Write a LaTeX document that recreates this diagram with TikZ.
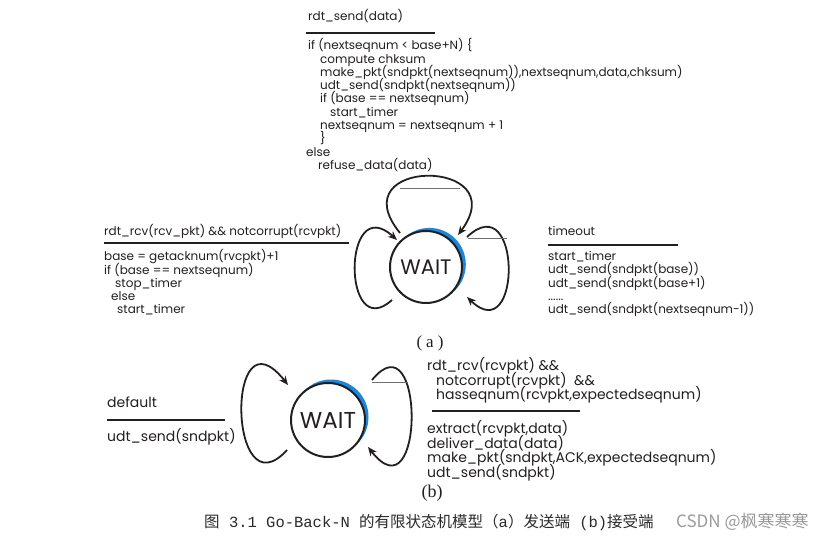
\documentclass[tikz,border=0pt]{standalone}
\usepackage{fontspec}
\setmainfont{Poppins}
\newfontfamily\cjk{Noto Sans CJK SC}
\newfontfamily\serifx{Liberation Serif}
\newfontfamily\monox{Liberation Mono}
\usetikzlibrary{arrows.meta, backgrounds, calc}

\definecolor{ink}{HTML}{231F20}
\definecolor{crescent}{HTML}{1C86D9}
\definecolor{chord}{HTML}{707070}
\definecolor{wmark}{HTML}{9A9A9A}
\definecolor{captxt}{HTML}{2A2A2A}

\tikzset{
  >={Stealth[length=9pt, width=7.5pt]},
  %
  code/.style={font=\fontsize{12}{13.3}\selectfont,
               text=ink, align=left, inner sep=0pt, anchor=north west,
               execute at begin node={\lineskiplimit=-20pt\rule{0pt}{11pt}}},
  codeb/.style={code, font=\fontsize{14}{14.7}\selectfont,
                execute at begin node={\lineskiplimit=-20pt\rule{0pt}{12.5pt}}},
  %
  state/.style={circle, draw=ink, line width=2pt, fill=white,
                inner sep=0pt, text=ink},
  selfloop/.style={draw=ink, line width=1.8pt, ->},
  sep/.style={draw=ink, line width=2.2pt},
  chordline/.style={draw=chord, line width=0.9pt},
  %
  sublbl/.style={text=ink, inner sep=0pt},
}

\begin{document}
\begin{tikzpicture}[x=1pt, y=-1pt]
  \useasboundingbox (0,0) rectangle (830,540);

  % =====================================================================
  % (a) sender
  % =====================================================================
  \node[state, minimum size=72pt, font=\fontsize{21}{21}\selectfont]
    (wa) at (426,267) {WAIT};

  \node[code] (sendev) at (308,9.3) {rdt\_send(data)};
  \draw[sep] (306,33) -- (435,33);
  \node[code] (sendact) at (306,38.3)
    {\hspace*{2pt}if (nextseqnum < base+N) \{\\
     \hspace*{14pt}compute chksum\\
     \hspace*{14pt}make\_pkt(sndpkt(nextseqnum)),nextseqnum,data,chksum)\\
     \hspace*{14pt}udt\_send(sndpkt(nextseqnum))\\
     \hspace*{14pt}if (base == nextseqnum)\\
     \hspace*{24pt}start\_timer\\
     \hspace*{14pt}nextseqnum = nextseqnum + 1\\
     \hspace*{14pt}\}\\
     else\\
     \hspace*{12pt}refuse\_data(data)};

  \node[code] (rcvev) at (104,224.3)
    {rdt\_rcv(rcv\_pkt) \&\& notcorrupt(rcvpkt)};
  \draw[sep] (104,243) -- (349,243);
  \node[code] (rcvact) at (104,249.3)
    {base = getacknum(rvcpkt)+1\\
     if (base == nextseqnum)\\
     \hspace*{11pt}stop\_timer\\
     \hspace*{7pt}else\\
     \hspace*{13pt}start\_timer};

  \node[code] (toev) at (548,224.3) {timeout};
  \draw[sep] (548,245) -- (678,245);
  \node[code] (toact) at (548,251.3)
    {start\_timer\\
     udt\_send(sndpkt(base))\\
     udt\_send(sndpkt(base+1)\\
     ......\\
     udt\_send(sndpkt(nextseqnum-1))};

  % self loops round WAIT
  \draw[selfloop] ([shift={(-26,-34)}]wa.center)
    .. controls +(-62,-76) and +(58,-78) .. ([shift={(32,-32)}]wa.center);
  \draw[chordline] (400,188) -- (460,188);
  \draw[selfloop] ([shift={(-34,33)}]wa.center)
    .. controls +(-50,45) and +(-55,-50) .. ([shift={(-29,-27)}]wa.center);
  \draw[selfloop] ([shift={(41,-30)}]wa.center)
    .. controls +(55,-52) and +(55,53) .. ([shift={(41,30)}]wa.center);
  \draw[chordline] (468,238) -- (507,238);

  \begin{scope}[on background layer]
    \fill[white] (0,0) rectangle (830,540);
    \fill[crescent] ([shift={(3.3,-2.6)}]wa.center) circle (36.5);
  \end{scope}

  \node[sublbl, font=\serifx\fontsize{17}{17}\selectfont] (capa) at (430,343)
    {(\hspace{4pt}a\hspace{4pt})};

  % =====================================================================
  % (b) receiver
  % =====================================================================
  \node[state, minimum size=74pt, font=\fontsize{23}{23}\selectfont]
    (wb) at (328,420) {WAIT};

  \node[codeb] (defev) at (107,395.2) {default};
  \draw[sep] (107,420) -- (225,420);
  \node[codeb] (defact) at (107,428.2) {udt\_send(sndpkt)};

  \node[codeb] (recev) at (427,357.2)
    {rdt\_rcv(rcvpkt) \&\&\\
     \hspace*{9pt}notcorrupt(rcvpkt)\ \ \&\&\\
     \hspace*{9pt}hasseqnum(rcvpkt,expectedseqnum)};
  \draw[sep] (432,411) -- (580,411);
  \node[codeb] (recact) at (427,420.2)
    {extract(rcvpkt,data)\\
     deliver\_data(data)\\
     make\_pkt(sndpkt,ACK,expectedseqnum)\\
     udt\_send(sndpkt)};

  \draw[selfloop] ([shift={(-41,30)}]wb.center)
    .. controls +(-59,65) and +(-63,-80) .. ([shift={(-40,-35)}]wb.center);
  \draw[selfloop] ([shift={(44,-40)}]wb.center)
    .. controls +(53,-65) and +(57,73) .. ([shift={(40,27)}]wb.center);
  \draw[chordline] (372,382) -- (408,382);

  \begin{scope}[on background layer]
    \fill[crescent] ([shift={(3,-3)}]wb.center) circle (37.5);
  \end{scope}

  \node[sublbl, font=\serifx\fontsize{18}{18}\selectfont] (capb) at (432,493)
    {(b)};

  % caption and mark
  \node[anchor=west, inner sep=0pt, text=captxt,
        font=\cjk\fontsize{15.5}{15.5}\selectfont] (cap) at (204,522)
    {图{\monox\ 3.1 Go-Back-N }的有限状态机模型（{\monox a}）发送端{\monox\ (b)}接受端};
  \node[anchor=west, inner sep=0pt, text=wmark,
        font=\cjk\fontsize{17}{17}\selectfont] (wm) at (676,522)
    {CSDN @枫寒寒寒};

\end{tikzpicture}
\end{document}
